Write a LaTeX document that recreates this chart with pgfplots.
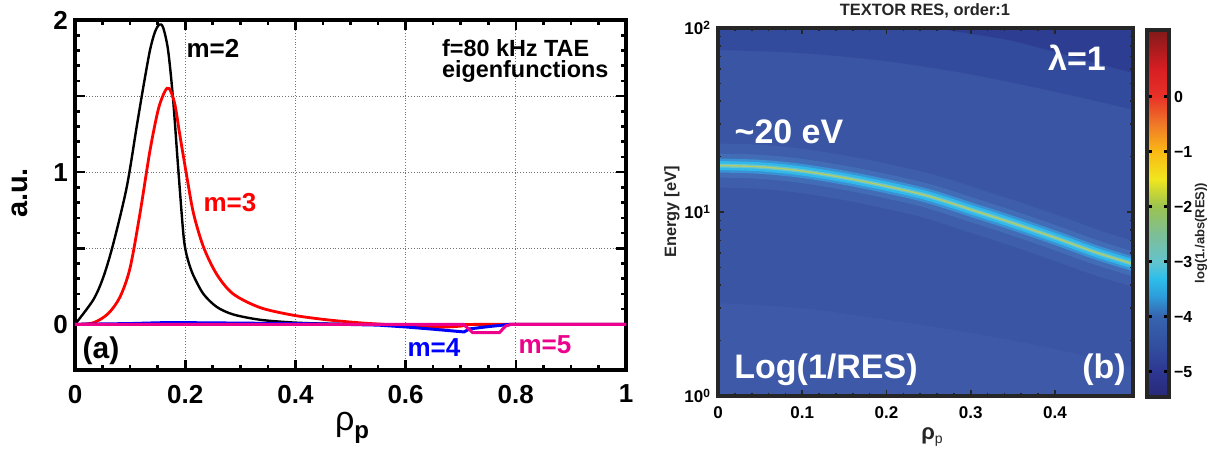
\documentclass[border=0pt]{standalone}
\usepackage{fontspec}
\setmainfont{Liberation Sans}
\usepackage{pgfplots}
\pgfplotsset{compat=1.18}

\definecolor{bgbase}{RGB}{58,85,163}
\definecolor{topA}{RGB}{51,75,156}
\definecolor{topB}{RGB}{44,61,146}
\definecolor{lowC}{RGB}{61,89,167}
\definecolor{haloA}{RGB}{62,94,171}
\definecolor{haloB}{RGB}{66,108,182}
\definecolor{bandA}{RGB}{58,145,212}
\definecolor{bandB}{RGB}{50,185,235}
\definecolor{bandC}{RGB}{105,198,205}
\definecolor{bandD}{RGB}{175,205,110}

\pgfplotsset{colormap={resjet}{
  rgb255(0pt)=(40,40,120) rgb255(46pt)=(45,55,145) rgb255(96pt)=(50,80,160)
  rgb255(146pt)=(55,100,175) rgb255(186pt)=(45,160,220) rgb255(216pt)=(45,190,235)
  rgb255(246pt)=(100,195,205) rgb255(296pt)=(125,190,150) rgb255(346pt)=(155,195,80)
  rgb255(396pt)=(240,230,30) rgb255(446pt)=(250,185,20) rgb255(496pt)=(240,120,40)
  rgb255(546pt)=(232,50,40) rgb255(596pt)=(215,30,35) rgb255(667pt)=(130,25,25)}}

\begin{document}
\begin{tikzpicture}
\useasboundingbox (0,0) rectangle (611pt,226.5pt);

% (a) eigenfunctions
\begin{axis}[
  at={(37.5pt,41.5pt)}, anchor=south west,
  width=275.5pt, height=175pt, scale only axis,
  xmin=0, xmax=1, ymin=-0.3, ymax=2,
  xtick={0,0.2,0.4,0.6,0.8,1}, xticklabels={0,0.2,0.4,0.6,0.8,1},
  ytick={0,0.5,1,1.5,2}, yticklabels={0,,1,,2},
  minor x tick num=3, minor y tick num=4,
  tick align=inside,
  major tick length=5pt, minor tick length=2.5pt,
  every tick/.style={black, line width=1.3pt},
  grid=major, grid style={densely dotted, black!55, line width=0.5pt},
  axis line style={line width=2.2pt},
  every tick label/.append style={font=\fontsize{13}{15}\selectfont\bfseries},
  xticklabel style={yshift=-4pt},
]
\addplot[black, line width=1.2pt, smooth] coordinates {
  (0,0)(0.033,0.16)(0.0514,0.31)(0.0695,0.53)(0.0938,0.90)(0.112,1.30)
  (0.124,1.56)(0.136,1.80)(0.145,1.92)(0.153,1.97)(0.160,1.95)(0.169,1.80)
  (0.178,1.48)(0.187,1.04)(0.196,0.62)(0.2,0.50)(0.206,0.41)(0.215,0.32)
  (0.233,0.20)(0.257,0.115)(0.287,0.065)(0.336,0.03)(0.396,0.012)(0.46,0.004)
  (0.55,0)(0.7,0)(1,0)};
\addplot[red, line width=1.4pt, smooth] coordinates {
  (0,0)(0.033,0.01)(0.06,0.07)(0.0817,0.18)(0.0999,0.37)(0.118,0.73)
  (0.136,1.14)(0.151,1.41)(0.163,1.53)(0.171,1.55)(0.181,1.45)(0.190,1.25)
  (0.203,0.97)(0.215,0.73)(0.233,0.51)(0.257,0.33)(0.287,0.20)(0.336,0.11)
  (0.396,0.06)(0.457,0.03)(0.517,0.01)(0.56,0)(0.6,-0.01)(0.65,-0.02)
  (0.7,-0.012)(0.73,0)(1,0)};
\addplot[blue, line width=1.5pt] coordinates {
  (0,0)(0.1,0.005)(0.17,0.012)(0.3,0.008)(0.45,0.003)(0.55,-0.005)
  (0.6,-0.017)(0.65,-0.032)(0.7,-0.048)(0.706,-0.05)(0.716,-0.03)
  (0.75,-0.015)(0.79,0)(1,0)};
\addplot[magenta, line width=1.5pt] coordinates {
  (0,0)(0.705,0)(0.722,-0.055)(0.77,-0.055)(0.782,-0.01)(0.792,0)(1,0)};
\end{axis}

\begin{scope}[font=\bfseries]
\node[font=\fontsize{13}{15}\selectfont\bfseries] at (106.5pt,202.5pt) {m=2};
\node[anchor=base west, font=\fontsize{11.7}{14}\selectfont\bfseries] at (217.5pt,198pt) {f=80 kHz TAE};
\node[anchor=base west, font=\fontsize{11.7}{14}\selectfont\bfseries] at (217.5pt,187.75pt) {eigenfunctions};
\node[red, font=\fontsize{13}{15}\selectfont\bfseries] at (115pt,125pt) {m=3};
\node[blue, font=\fontsize{13}{15}\selectfont\bfseries] at (217pt,52.5pt) {m=4};
\node[magenta, font=\fontsize{13}{15}\selectfont\bfseries] at (272.5pt,54pt) {m=5};
\node[font=\fontsize{15}{18}\selectfont\bfseries] at (50.5pt,51pt) {(a)};
\node[rotate=90, font=\fontsize{14.5}{17}\selectfont\bfseries] at (10pt,130pt) {a.u.};
\node at (176pt,12.5pt) {{\fontsize{17}{20}\selectfont\mdseries ρ}{\fontsize{12}{14}\selectfont\bfseries\raisebox{-4pt}{p}}};
\end{scope}

% (b) resonance map
\begin{axis}[
  at={(359pt,28.5pt)}, anchor=south west,
  width=207.5pt, height=184pt, scale only axis,
  ymode=log, xmin=0, xmax=0.4926, ymin=1, ymax=100,
  axis background/.style={fill=bgbase},
  axis on top,
  xtick={0,0.1,0.2,0.3,0.4}, xticklabels={0,0.1,0.2,0.3,0.4},
  minor x tick num=4,
  ytick={1,10,100}, yticklabels={10\textsuperscript{0},10\textsuperscript{1},10\textsuperscript{2}},
  tick align=inside,
  major tick length=3pt, minor tick length=1.5pt,
  every tick/.style={black!85, line width=0.8pt},
  axis line style={line width=2pt, black!85},
  every tick label/.append style={font=\fontsize{8.5}{10}\selectfont\bfseries},
  xticklabel style={yshift=-2pt},
  colorbar,
  colormap name=resjet,
  point meta min=-5.46, point meta max=1.21,
  colorbar style={
    at={(parent axis.north east)}, anchor=north west, xshift=-1.5pt, yshift=-1pt,
    width=11pt, height=183.5pt,
    ytick={-5,-4,-3,-2,-1,0}, yticklabels={−5,−4,−3,−2,−1,0},
    ytick pos=both, yticklabel pos=right,
    tick align=inside, major tick length=2.5pt,
    every tick/.style={black, line width=1.2pt},
    axis line style={line width=2pt, black!85},
    yticklabel style={font=\fontsize{8}{10}\selectfont\bfseries, xshift=-1pt},
  },
]
\addplot[fill=lowC, draw=none, smooth] coordinates {
  (-0.05,3.3)(0,3.2)(0.1,3.0)(0.2,2.6)(0.3,2.2)(0.4,1.8)(0.4926,1.43)(0.55,1.25)
  (0.6,0.4)(-0.1,0.4)};
\addplot[fill=topA, draw=none, smooth] coordinates {
  (-0.05,77)(0,76)(0.1,73)(0.2,66)(0.3,56)(0.4,45)(0.4926,36)(0.55,31)
  (0.6,400)(-0.1,400)};
\addplot[fill=topB, draw=none, smooth] coordinates {
  (0.2,112)(0.25,101)(0.3,93)(0.35,85)(0.42,70)(0.4926,57)(0.55,50)
  (0.6,400)(0.15,400)};
\addplot[haloA, line width=22pt, smooth] coordinates {
  (-0.01,17.9)(0,17.9)(0.05,17.6)(0.1,16.7)(0.165,14.9)(0.244,12.4)(0.309,10.0)
  (0.35,8.7)(0.402,7.2)(0.45,6.0)(0.5,5.1)};
\addplot[haloB, line width=12pt, smooth] coordinates {
  (-0.01,17.9)(0,17.9)(0.05,17.6)(0.1,16.7)(0.165,14.9)(0.244,12.4)(0.309,10.0)
  (0.35,8.7)(0.402,7.2)(0.45,6.0)(0.5,5.1)};
\addplot[bandA, line width=7pt, smooth] coordinates {
  (-0.01,17.9)(0,17.9)(0.05,17.6)(0.1,16.7)(0.165,14.9)(0.244,12.4)(0.309,10.0)
  (0.35,8.7)(0.402,7.2)(0.45,6.0)(0.5,5.1)};
\addplot[bandB, line width=4.5pt, smooth] coordinates {
  (-0.01,17.9)(0,17.9)(0.05,17.6)(0.1,16.7)(0.165,14.9)(0.244,12.4)(0.309,10.0)
  (0.35,8.7)(0.402,7.2)(0.45,6.0)(0.5,5.1)};
\addplot[bandC, line width=2pt, smooth] coordinates {
  (-0.01,17.9)(0,17.9)(0.05,17.6)(0.1,16.7)(0.165,14.9)(0.244,12.4)(0.309,10.0)
  (0.35,8.7)(0.402,7.2)(0.45,6.0)(0.5,5.1)};
\addplot[bandD, line width=0.7pt, smooth] coordinates {
  (-0.01,17.9)(0,17.9)(0.05,17.6)(0.1,16.7)(0.165,14.9)(0.244,12.4)(0.309,10.0)
  (0.35,8.7)(0.402,7.2)(0.45,6.0)(0.5,5.1)};
\end{axis}

\node[font=\fontsize{8.2}{10}\selectfont\bfseries, black!85] at (462.5pt,221pt) {TEXTOR RES, order:1};
\node[white, font=\fontsize{17}{20}\selectfont\bfseries] at (538.5pt,197.5pt) {λ=1};
\node[white, font=\fontsize{17}{20}\selectfont\bfseries] at (394.5pt,160.5pt) {\textasciitilde20 eV};
\node[white, font=\fontsize{17}{20}\selectfont\bfseries] at (413pt,41.5pt) {Log(1/RES)};
\node[white, font=\fontsize{17}{20}\selectfont\bfseries] at (552pt,41.5pt) {(b)};
\node[rotate=90, black!85, font=\fontsize{8.2}{10}\selectfont\bfseries] at (336pt,120.5pt) {Energy [eV]};
\node[black!85] at (466pt,8pt) {{\fontsize{11}{13}\selectfont\bfseries ρ}{\fontsize{7}{9}\selectfont\raisebox{-2pt}{p}}};
\node[rotate=90, black!85, font=\fontsize{6.5}{8}\selectfont\bfseries] at (600.5pt,110pt) {log(1./abs(RES))};
\end{tikzpicture}
\end{document}
